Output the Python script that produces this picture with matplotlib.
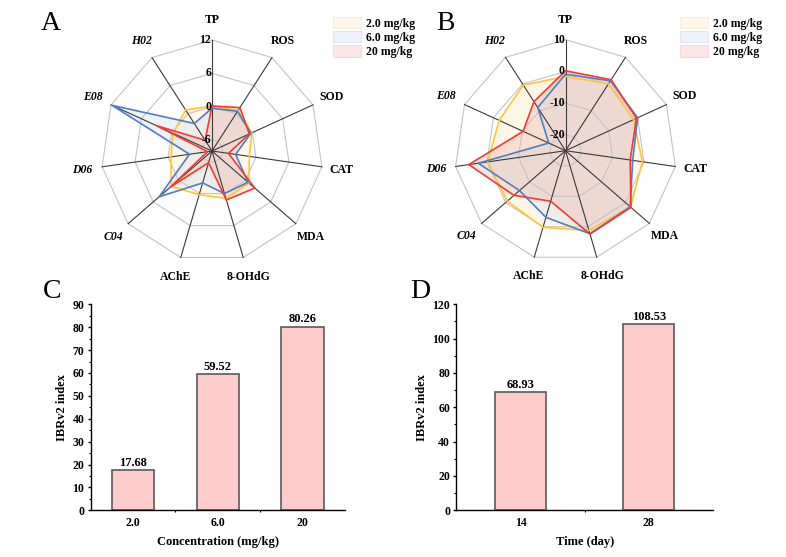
import numpy as np
import matplotlib
matplotlib.use('Agg')
import matplotlib.pyplot as plt
from matplotlib.patches import Patch

plt.rcParams['font.family'] = ['Liberation Serif', 'DejaVu Serif']
plt.rcParams['font.weight'] = 'bold'
plt.rcParams['axes.labelweight'] = 'bold'

# ---------------- data ----------------
categories = ['TP', 'ROS', 'SOD', 'CAT', 'MDA', '8-OHdG', 'AChE', 'C04', 'D06', 'E08', 'H02']
italic_cats = ['C04', 'D06', 'E08', 'H02']
series_names = ['2.0 mg/kg', '6.0 mg/kg', '20 mg/kg']

# Panel A
a_2mg = [0.1, 0.7, -0.1, -1.2, 0.8, 0.9, 0.2, 1.7, -0.5, -0.3, 0.8]
a_6mg = [-0.3, 0.5, -0.3, -3.7, 0.6, 0.0, -2.0, 4.6, -3.9, 11.8, -2.1]
a_20mg = [0.1, 1.3, -0.6, -5.0, 2.2, 1.2, -5.8, 1.9, -7.2, 3.0, -5.7]
a_ticks = [-6, 0, 6, 12]
a_range = (-8, 12)

# Panel B
b_2mg = [-1.6, 0.1, -1.4, -0.5, 2.1, 1.2, 0.2, -0.7, -0.2, -2.0, -0.4]
b_6mg = [-0.9, 1.2, 0.0, -3.6, 2.0, 2.3, -3.1, -5.8, 2.8, -19.2, -8.8]
b_20mg = [0.2, 1.6, -0.4, -4.4, 2.3, 2.4, -8.4, -3.5, 5.8, -10.3, -6.6]
b_ticks = [-20, -10, 0, 10]
b_range = (-25, 10)

# Panel C
conc_labels = ['2.0', '6.0', '20']
conc_ibr = [17.68, 59.52, 80.26]
# Panel D
time_labels = ['14', '28']
time_ibr = [68.93, 108.53]

# ---------------- styles ----------------
line_colors = ['#FFC533', '#4C7FC6', '#F23A3A']
fill_colors = ['#FFEFC8', '#C8D7F0', '#F0AAA0']
fill_alphas = [0.45, 0.3, 0.3]
legend_face = ['#FFF8EA', '#EEF2FC', '#FDE6E6']
legend_edge = ['#F8EED8', '#DDE6F6', '#F8D8D8']
bar_face = '#FFCCCC'
bar_edge = '#5A5A5A'

W, H = 786, 557
fig = plt.figure(figsize=(W / 100, H / 100), dpi=100)


def radar(ax, series, rng, ticks):
    n = len(categories)
    ang = np.arange(n) * 2 * np.pi / n
    angc = np.append(ang, ang[0])
    ax.set_theta_zero_location('N')
    ax.set_theta_direction(-1)
    ax.set_ylim(*rng)
    ax.set_xticks([])
    ax.set_yticks([])
    ax.grid(False)
    ax.spines['polar'].set_visible(False)
    ax.patch.set_alpha(0)
    for vals, fc, fa in zip(series, fill_colors, fill_alphas):
        v = np.append(vals, vals[0])
        ax.fill(angc, v, color=fc, alpha=fa, lw=0, zorder=1)
    for t in ticks:
        ax.plot(angc, [t] * (n + 1), color='#C4C4C4', lw=0.8, zorder=2, clip_on=False)
    for a in ang:
        ax.plot([a, a], [rng[0], rng[1]], color='#3A3A3A', lw=0.8, zorder=3, clip_on=False)
    for vals, lc in zip(series, line_colors):
        v = np.append(vals, vals[0])
        ax.plot(angc, v, color=lc, lw=1.2, zorder=4, clip_on=False)
    for t in ticks:
        ax.annotate(f'{t}', xy=(0, t), xytext=(-0.5, 0), textcoords='offset points',
                    ha='right', va='center', fontsize=8.5, fontweight='bold',
                    zorder=6, annotation_clip=False)
    rlab = rng[0] + 1.18 * (rng[1] - rng[0])
    for a, c in zip(ang, categories):
        ax.text(a, rlab, c, ha='center', va='center', fontsize=8.5, fontweight='bold',
                style='italic' if c in italic_cats else 'normal')


def legend(ax, x0, y0):
    handles = [Patch(facecolor=f, edgecolor=e, lw=0.8) for f, e in zip(legend_face, legend_edge)]
    ax.legend(handles, series_names, loc='upper left', bbox_to_anchor=(x0, y0),
              bbox_transform=fig.transFigure, frameon=False, fontsize=8.5,
              handlelength=2.35, handleheight=1.1, handletextpad=0.45,
              labelspacing=0.12, borderpad=0, borderaxespad=0)


R = 111
axA = fig.add_axes([(212 - R) / W, 1 - (151 + R) / H, 2 * R / W, 2 * R / H], projection='polar')
radar(axA, [a_2mg, a_6mg, a_20mg], a_range, a_ticks)
legend(axA, 333 / W, 1 - 17 / H)

axB = fig.add_axes([(565.5 - R) / W, 1 - (150.7 + R) / H, 2 * R / W, 2 * R / H], projection='polar')
radar(axB, [b_2mg, b_6mg, b_20mg], b_range, b_ticks)
legend(axB, 680 / W, 1 - 17 / H)


def bars(ax, labels, vals, width, ylim, major, minor, xlabel):
    x = np.arange(1, len(vals) + 1)
    ax.bar(x, vals, width=width, color=bar_face, edgecolor=bar_edge, lw=1.2, zorder=2)
    for xi, v in zip(x, vals):
        ax.annotate(f'{v:.2f}', xy=(xi, v), xytext=(0, 0.8), textcoords='offset points',
                    ha='center', va='bottom', fontsize=9, fontweight='bold')
    ax.set_xlim(0.5, len(vals) + 0.5)
    ax.set_ylim(*ylim)
    ax.set_xticks(x)
    ax.set_xticklabels(labels)
    ax.set_xticks(x[:-1] + 0.5, minor=True)
    ax.set_yticks(np.arange(ylim[0], ylim[1] + 1, major))
    ax.set_yticks(np.arange(ylim[0], ylim[1] + 1, minor), minor=True)
    for s in ['top', 'right']:
        ax.spines[s].set_visible(False)
    for s in ['left', 'bottom']:
        ax.spines[s].set_linewidth(1.0)
    ax.tick_params(axis='both', which='major', direction='out', length=2.5, width=1.0,
                   labelsize=8.5, pad=2)
    ax.tick_params(axis='x', which='major', length=0, pad=5)
    ax.tick_params(axis='both', which='minor', direction='out', length=1.6, width=0.8)
    ax.set_ylabel('IBRv2 index', fontsize=9, labelpad=3)
    ax.set_xlabel(xlabel, fontsize=9, labelpad=5)


axC = fig.add_axes([90.7 / W, 1 - 510.3 / H, (345 - 90.7) / W, 206 / H])
bars(axC, conc_labels, conc_ibr, 0.5, (0, 90), 10, 5, 'Concentration (mg/kg)')

axD = fig.add_axes([456.3 / W, 1 - 510.3 / H, (713 - 456.3) / W, 206 / H])
bars(axD, time_labels, time_ibr, 0.4, (0, 120), 20, 10, 'Time (day)')

for lab, (x, y) in zip(['A', 'B', 'C', 'D'], [(51, 24), (445, 24), (52, 292), (420, 292)]):
    fig.text(x / W, 1 - y / H, lab, fontsize=20, fontweight='normal', ha='center', va='center')

fig.savefig('out.png', dpi=100)
